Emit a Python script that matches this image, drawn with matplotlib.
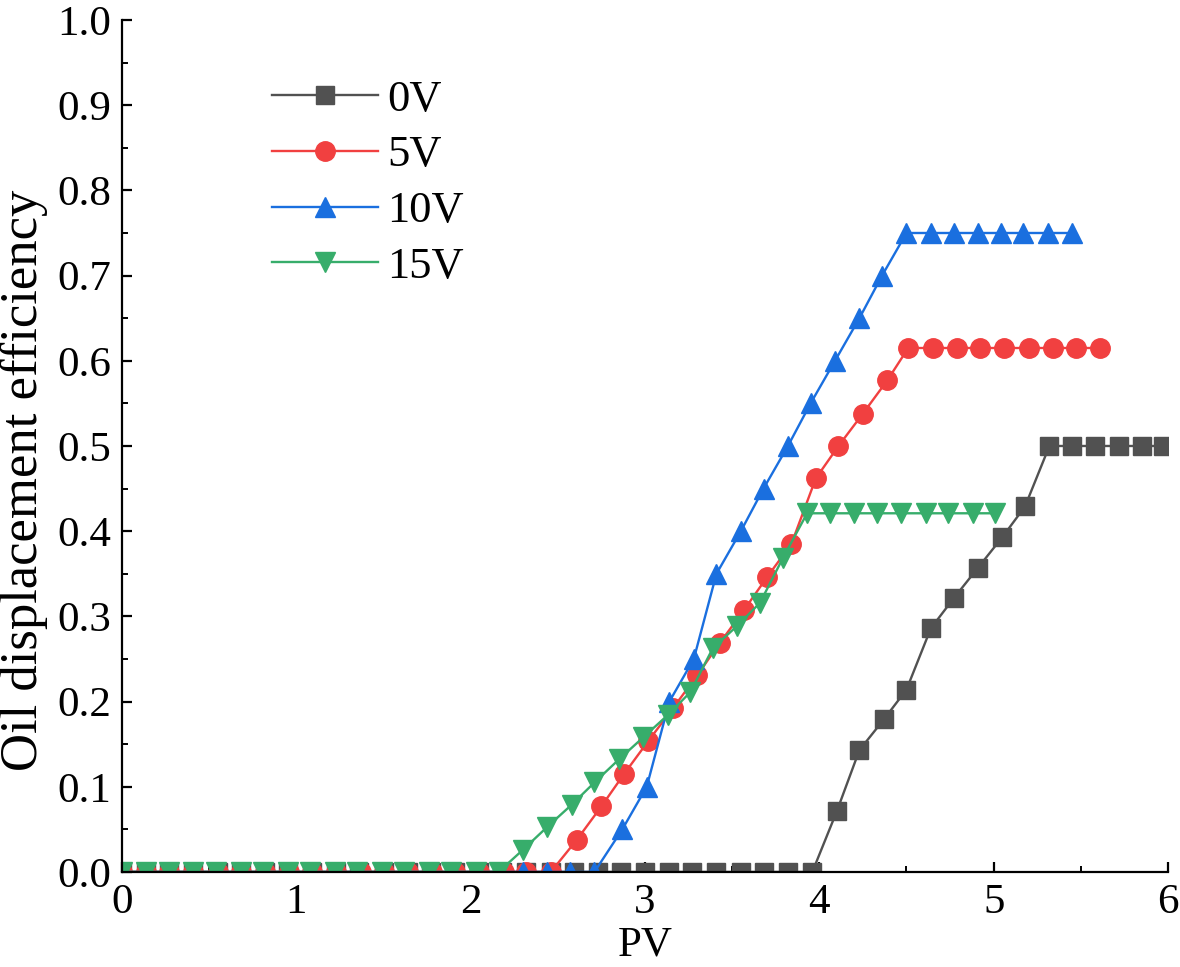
import matplotlib
matplotlib.use('Agg')
import matplotlib.pyplot as plt
from matplotlib.ticker import MultipleLocator

plt.rcParams['font.family'] = ['Liberation Serif', 'DejaVu Serif']

# PV values
pv_0v = [0.00, 0.14, 0.27, 0.41, 0.55, 0.68, 0.82, 0.95, 1.09, 1.23,
         1.36, 1.50, 1.64, 1.77, 1.91, 2.05, 2.18, 2.32, 2.46, 2.59,
         2.73, 2.86, 3.00, 3.14, 3.27, 3.41, 3.55, 3.68, 3.82, 3.96,
         4.10, 4.23, 4.37, 4.50, 4.64, 4.77, 4.91, 5.05, 5.18, 5.32,
         5.45, 5.58, 5.72, 5.85, 5.97]
eff_0v = [0.0] * 30 + [0.071, 0.143, 0.179, 0.214, 0.286, 0.321, 0.357, 0.393, 0.429, 0.500,
                       0.500, 0.500, 0.500, 0.500, 0.500]

pv_5v = [0.00, 0.14, 0.27, 0.41, 0.55, 0.68, 0.82, 0.96, 1.09, 1.23,
         1.37, 1.50, 1.64, 1.78, 1.91, 2.05, 2.19, 2.32, 2.46,
         2.61, 2.75, 2.88, 3.02, 3.16, 3.30, 3.43, 3.57, 3.70, 3.84,
         3.98, 4.11, 4.25, 4.39, 4.51, 4.65, 4.79, 4.92, 5.06, 5.20,
         5.34, 5.47, 5.61]
eff_5v = [0.0] * 19 + [0.038, 0.077, 0.115, 0.154, 0.192, 0.231, 0.269, 0.308, 0.346, 0.385,
                       0.462, 0.500, 0.538, 0.577, 0.615, 0.615, 0.615, 0.615, 0.615, 0.615,
                       0.615, 0.615, 0.615]

pv_10v = [0.00, 0.14, 0.27, 0.41, 0.54, 0.68, 0.81, 0.95, 1.08, 1.22,
          1.36, 1.49, 1.63, 1.76, 1.90, 2.03, 2.17, 2.30, 2.44, 2.57, 2.71,
          2.87, 3.01, 3.14, 3.28, 3.41, 3.55, 3.68, 3.82, 3.95, 4.09,
          4.23, 4.36, 4.50, 4.64, 4.77, 4.91, 5.04, 5.17, 5.31, 5.45]
eff_10v = [0.0] * 21 + [0.05, 0.10, 0.20, 0.25, 0.35, 0.40, 0.45, 0.50, 0.55, 0.60,
                        0.65, 0.70, 0.75, 0.75, 0.75, 0.75, 0.75, 0.75, 0.75, 0.75]

pv_15v = [0.00, 0.14, 0.27, 0.41, 0.54, 0.68, 0.81, 0.95, 1.08, 1.22,
          1.35, 1.49, 1.62, 1.76, 1.89, 2.03, 2.16,
          2.30, 2.44, 2.58, 2.71, 2.85, 2.99, 3.13, 3.26, 3.39, 3.53,
          3.66, 3.79, 3.93, 4.06, 4.20, 4.33, 4.47, 4.61, 4.74, 4.88, 5.01]
eff_15v = [0.0] * 17 + [0.026, 0.053, 0.079, 0.105, 0.132, 0.158, 0.184, 0.211, 0.263, 0.289,
                        0.316, 0.368, 0.421, 0.421, 0.421, 0.421, 0.421, 0.421, 0.421, 0.421,
                        0.421]

fig = plt.figure(figsize=(11.8, 9.67), dpi=100)
ax = fig.add_axes([0.1034, 0.0983, 0.8864, 0.881])

ax.plot(pv_0v, eff_0v, '-s', color='#515151', ms=12.5, lw=1.7, label='0V')
ax.plot(pv_5v, eff_5v, '-o', color='#F14040', ms=14, lw=1.7, label='5V')
ax.plot(pv_10v, eff_10v, '-^', color='#1A6FDF', ms=15, lw=1.7, label='10V')
ax.plot(pv_15v, eff_15v, '-v', color='#37AD6B', ms=15, lw=1.7, label='15V')

ax.set_xlim(0, 6)
ax.set_ylim(0, 1.0)
ax.xaxis.set_major_locator(MultipleLocator(1))
ax.xaxis.set_minor_locator(MultipleLocator(0.5))
ax.yaxis.set_major_locator(MultipleLocator(0.1))
ax.yaxis.set_minor_locator(MultipleLocator(0.05))
ax.set_yticklabels(['%.1f' % v for v in ax.get_yticks()])

ax.spines['top'].set_visible(False)
ax.spines['right'].set_visible(False)
ax.spines['left'].set_linewidth(1.6)
ax.spines['bottom'].set_linewidth(1.6)
ax.tick_params(which='major', direction='in', length=7, width=1.6, labelsize=31, pad=8)
ax.tick_params(which='minor', direction='in', length=4, width=1.4)

ax.set_xlabel('PV', fontsize=31)
ax.xaxis.set_label_coords(0.5, -0.064)
ax.set_ylabel('Oil displacement efficiency', fontsize=38)
ax.yaxis.set_label_coords(-0.071, 0.46)

ax.legend(loc='upper left', bbox_to_anchor=(0.143, 0.93), frameon=False, fontsize=32,
          numpoints=1, handlelength=2.4, handletextpad=0.2, labelspacing=0.35,
          borderpad=0, borderaxespad=0)

fig.savefig('out.png', dpi=100)
